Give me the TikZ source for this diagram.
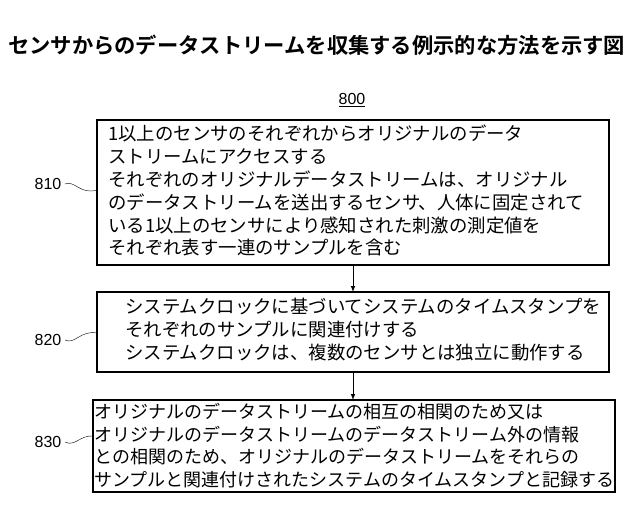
\documentclass[tikz,border=0pt]{standalone}
\usepackage{fontspec}
\newfontfamily\cjk{Noto Sans CJK JP}
\newfontfamily\cjkb{Noto Sans CJK JP Bold}
\begin{document}
\begin{tikzpicture}[x=1pt,y=-1pt,
  box/.style={draw,line width=1.2pt},
  txt/.style={anchor=north west,align=left,font=\cjk\fontsize{18.4}{22.8}\selectfont,inner sep=0},
  lab/.style={font=\fontspec{Liberation Sans}\fontsize{16}{16}\selectfont},
  arr/.style={-latex,line width=1pt}]
\useasboundingbox (0,0) rectangle (640,526);
\node[anchor=west,inner sep=0,font=\cjkb\fontsize{21.3}{22}\selectfont] (title) at (8,45) {センサからのデータストリームを収集する例示的な方法を示す図};
\node[lab] (n800) at (352,100) {\underline{800}};
\draw[box] (97,120) rectangle (609,265);
\coordinate (b1t) at (353,265);
\node[txt] (t1) at (108,125) {1以上のセンサのそれぞれからオリジナルのデータ\\ストリームにアクセスする\\それぞれのオリジナルデータストリームは、オリジナル\\のデータストリームを送出するセンサ、人体に固定されて\\いる1以上のセンサにより感知された刺激の測定値を\\それぞれ表す一連のサンプルを含む};
\draw[box] (97,292) rectangle (609,372);
\coordinate (b2t) at (353,292);
\coordinate (b2b) at (353,372);
\node[txt] (t2) at (125,298) {システムクロックに基づいてシステムのタイムスタンプを\\それぞれのサンプルに関連付けする\\システムクロックは、複数のセンサとは独立に動作する};
\draw[box] (93,400) rectangle (615,492);
\coordinate (b3t) at (353,400);
\node[txt,font=\cjk\fontsize{18}{22.5}\selectfont] (t3) at (94,403) {オリジナルのデータストリームの相互の相関のため又は\\オリジナルのデータストリームのデータストリーム外の情報\\との相関のため、オリジナルのデータストリームをそれらの\\サンプルと関連付けされたシステムのタイムスタンプと記録する};
\draw[arr] (b1t) -- (b2t);
\draw[arr] (b2b) -- (b3t);
\node[lab] (l810) at (48,184) {810};
\node[lab] (l820) at (48,340) {820};
\node[lab] (l830) at (48,442) {830};
\draw (l810.east) .. controls (75,180) and (80,195) .. (97,190);
\draw (l820.east) .. controls (75,345) and (80,330) .. (97,333);
\draw (l830.east) .. controls (75,447) and (80,435) .. (93,436);
\end{tikzpicture}
\end{document}
